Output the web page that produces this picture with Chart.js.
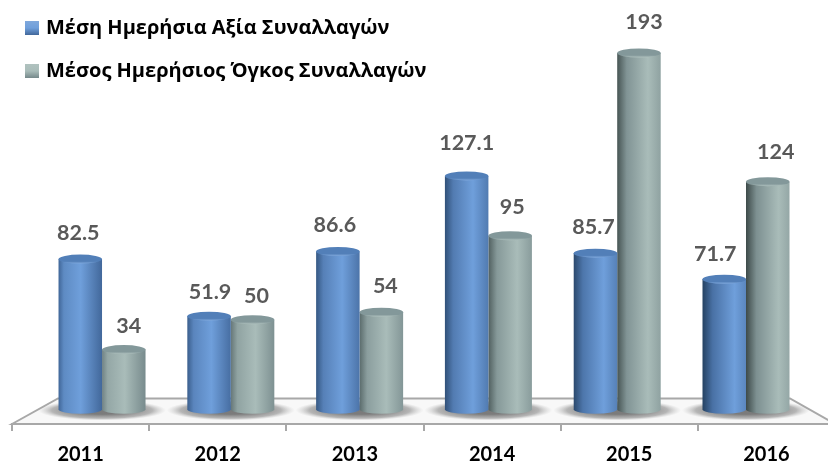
<!DOCTYPE html>
<html>
<head>
<meta charset="utf-8">
<style>
  html, body { margin: 0; padding: 0; background: #fff; overflow: hidden; width: 828px; height: 466px; }
  canvas { display: block; }
</style>
<script src="https://cdn.jsdelivr.net/npm/chart.js@4"></script>
</head>
<body>
<!-- the axis runs past the right edge of the picture, so the canvas is a bit wider than the window -->
<canvas id="chart" width="835" height="466"></canvas>
<script>
// data
const years = ["2011", "2012", "2013", "2014", "2015", "2016"];
const avgValue = [82.5, 51.9, 86.6, 127.1, 85.7, 71.7];
const avgVolume = [34, 50, 54, 95, 193, 124];
const valueName = "Μέση Ημερήσια Αξία Συναλλαγών";
const volumeName = "Μέσος Ημερήσιος Όγκος Συναλλαγών";

// label nudges, the labels do not sit exactly over the bars
const valueNudgeX = [-2, 1, -3, 0, -2, -9];
const volumeNudgeX = [5, 4, 4, 2, 5, 8];
const valueLift = [26, 24, 26, 33, 26, 25];
const volumeLift = [24, 24, 26, 29, 31, 30];

const blue = { edge: "#24405f", mid: "#6f9fdb", right: "#41679a", cap: "#527fb8", capLight: "#7fa8dc" };
const grey = { edge: "#3d4a49", mid: "#a9bcb9", right: "#75888a", cap: "#83989a", capLight: "#b0c2bf" };

function mix(a, b, t) {
  const pa = parseInt(a.slice(1), 16), pb = parseInt(b.slice(1), 16);
  const ch = s => Math.round(((pa >> s) & 255) * (1 - t) + ((pb >> s) & 255) * t);
  return `rgb(${ch(16)},${ch(8)},${ch(0)})`;
}

// cylinder look, drawn from the geometry the bar controller computes
class CylinderBar extends Chart.BarElement {
  draw(ctx) {
    const { x, y, base, width } = this.getProps(["x", "y", "base", "width"]);
    const c = this.options.backgroundColor === "blue" ? blue : grey;
    const left = x - width / 2, right = x + width / 2, ry = 4.5;
    // the further right the bar, the darker its left side
    const t = Math.min(1, Math.max(0, (x - 60) / 700));
    const g = ctx.createLinearGradient(left, 0, right, 0);
    g.addColorStop(0, mix(c.right, c.edge, t));
    g.addColorStop(0.12 + t * 0.12, mix(c.mid, c.right, 0.35 + t * 0.5));
    g.addColorStop(0.5 + t * 0.25, c.mid);
    g.addColorStop(1, mix(c.right, c.mid, t * 0.6));
    ctx.save();
    ctx.fillStyle = g;
    ctx.beginPath();
    ctx.moveTo(left, y);
    ctx.lineTo(left, base);
    ctx.ellipse(x, base, width / 2, ry, 0, Math.PI, 0, true);
    ctx.lineTo(right, y);
    ctx.closePath();
    ctx.fill();
    const capG = ctx.createLinearGradient(0, y - ry, 0, y + ry);
    capG.addColorStop(0, c.cap);
    capG.addColorStop(0.75, c.cap);
    capG.addColorStop(1, c.capLight);
    ctx.fillStyle = capG;
    ctx.beginPath();
    ctx.ellipse(x, y, width / 2, ry, 0, 0, Math.PI * 2);
    ctx.fill();
    ctx.restore();
  }
}
CylinderBar.id = "cylinderBar";
CylinderBar.defaults = Chart.BarElement.defaults;
CylinderBar.defaultRoutes = Chart.BarElement.defaultRoutes;

class CylinderController extends Chart.BarController {}
CylinderController.id = "cylinder";
CylinderController.defaults = Object.assign({}, Chart.BarController.defaults, { dataElementType: "cylinderBar" });
CylinderController.overrides = Chart.BarController.overrides;
Chart.register(CylinderBar, CylinderController);

// floor of the 3D box and the soft shadows under the bars
const floorPlugin = {
  id: "floor",
  beforeDatasetsDraw(chart) {
    const { ctx, chartArea } = chart;
    const front = chartArea.bottom, back = front - 25.5, l = chartArea.left;
    ctx.save();
    ctx.beginPath();
    ctx.moveTo(l, front);
    ctx.lineTo(l + 46, back);
    ctx.lineTo(chartArea.right - 45, back);
    ctx.lineTo(chartArea.right, front);
    ctx.closePath();
    ctx.fillStyle = "#f8f8f8";
    ctx.fill();
    ctx.strokeStyle = "#a8a8a8";
    ctx.lineWidth = 2;
    ctx.stroke();
    // shadows
    chart.getDatasetMeta(0).data.forEach((bar, i) => {
      const other = chart.getDatasetMeta(1).data[i];
      const cx = (bar.x + other.x) / 2;
      const cy = bar.base + 1;
      ctx.save();
      ctx.translate(cx, cy);
      ctx.scale(1, 0.16);
      const g = ctx.createRadialGradient(0, 0, 25, 0, 0, 64);
      g.addColorStop(0, "rgba(70,70,70,0.7)");
      g.addColorStop(0.65, "rgba(100,100,100,0.45)");
      g.addColorStop(1, "rgba(160,160,160,0)");
      ctx.fillStyle = g;
      ctx.beginPath();
      ctx.arc(0, 0, 64, 0, Math.PI * 2);
      ctx.fill();
      ctx.restore();
    });
    ctx.restore();
  }
};

// value labels over the bars
const valueLabels = {
  id: "valueLabels",
  afterDatasetsDraw(chart) {
    const { ctx } = chart;
    const nudges = [valueNudgeX, volumeNudgeX];
    const lifts = [valueLift, volumeLift];
    ctx.save();
    ctx.font = "bold 21.5px Lato, 'Open Sans', sans-serif";
    ctx.fillStyle = "#595959";
    ctx.textAlign = "center";
    ctx.textBaseline = "middle";
    chart.data.datasets.forEach((ds, d) => {
      chart.getDatasetMeta(d).data.forEach((bar, i) => {
        ctx.fillText(String(ds.data[i]), bar.x + nudges[d][i], bar.y - lifts[d][i]);
      });
    });
    ctx.restore();
  }
};

// legend top left, stacked, with bevelled swatches
const legendPlugin = {
  id: "stackedLegend",
  afterDraw(chart) {
    const { ctx } = chart;
    const rows = [[valueName, blue, 28], [volumeName, grey, 71]];
    ctx.save();
    ctx.font = "bold 20px 'Open Sans', sans-serif";
    ctx.textBaseline = "middle";
    rows.forEach(([name, c, y]) => {
      const g = ctx.createLinearGradient(0, y - 7, 0, y + 7);
      g.addColorStop(0, c.capLight);
      g.addColorStop(0.5, c.mid);
      g.addColorStop(1, c.right);
      ctx.fillStyle = g;
      ctx.fillRect(25, y - 7, 14, 14);
      ctx.fillStyle = "#000";
      ctx.fillText(name, 46, y);
    });
    ctx.restore();
  }
};

new Chart(document.getElementById("chart"), {
  type: "cylinder",
  data: {
    labels: years,
    datasets: [
      { label: valueName, data: avgValue, backgroundColor: "blue", xAxisID: "bars", base: 2, barThickness: 43.5 },
      { label: volumeName, data: avgVolume, backgroundColor: "grey", xAxisID: "bars", base: 2, barThickness: 43.5 }
    ]
  },
  plugins: [floorPlugin, valueLabels, legendPlugin],
  options: {
    responsive: false,
    animation: false,
    layout: { padding: { left: 12, right: 0, top: 0, bottom: -13 } },
    plugins: { legend: { display: false }, tooltip: { enabled: false } },
    scales: {
      // bars stand on the back of the floor, so they run on a tighter scale than the year labels
      bars: { type: "linear", position: "bottom", display: false, offset: false, min: 2010.301, max: 2016.691 },
      x: {
        type: "category",
        position: "bottom",
        offset: true,
        border: { color: "#a8a8a8", width: 2 },
        grid: { display: true, offset: true, drawOnChartArea: false, drawTicks: true, tickLength: 7, color: "#a8a8a8", lineWidth: 2 },
        ticks: { color: "#000", padding: 12, maxRotation: 0, autoSkip: false, font: { family: "Lato, 'Open Sans', sans-serif", weight: "bold", size: 20 } }
      },
      y: { display: false, min: -5.9, max: 221.4 }
    }
  }
});
</script>
</body>
</html>
